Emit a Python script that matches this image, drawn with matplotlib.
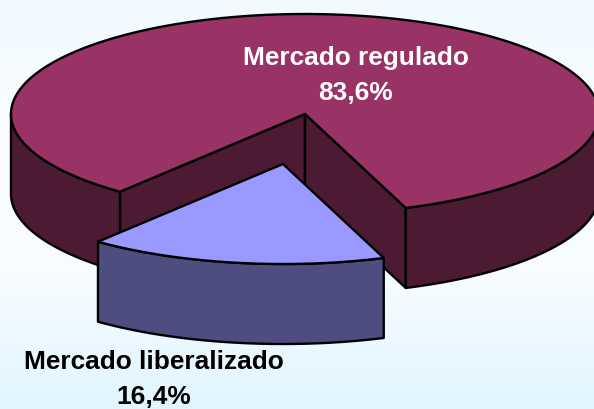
import numpy as np
import matplotlib
matplotlib.use("Agg")
import matplotlib.pyplot as plt
from matplotlib.colors import LinearSegmentedColormap

labels = ["Mercado regulado", "Mercado liberalizado"]
value_labels = ["83,6%", "16,4%"]
shares = [83.6, 16.4]

# pie geometry in pixels
cx, cy = 305, 114
rx, ry = 294, 100
depth = 80
start = 231.0
explode = (-22, 50)
lw = 1.7

top_main, side_main = "#993366", "#4d1a33"
top_lib, side_lib = "#9999ff", "#4d4d80"

def ell(a, off=(0, 0)):
    a = np.radians(a)
    return cx + off[0] + rx * np.cos(a), cy + off[1] - ry * np.sin(a)

def wall(ax, a0, a1, color, off=(0, 0)):
    a = np.linspace(a0, a1, 120)
    x, y = ell(a, off)
    ax.fill(np.r_[x, x[::-1]], np.r_[y, y[::-1] + depth], fc=color, ec="black", lw=lw, joinstyle="round")

def cut(ax, a, color):
    x, y = ell(a)
    ax.fill([cx, x, x, cx], [cy, y, y + depth, cy + depth], fc=color, ec="black", lw=lw, joinstyle="round")

def top(ax, a0, a1, color, off=(0, 0)):
    a = np.linspace(a0, a1, 400)
    x, y = ell(a, off)
    ax.fill(np.r_[cx + off[0], x], np.r_[cy + off[1], y], fc=color, ec="black", lw=lw, joinstyle="miter")

fig = plt.figure(figsize=(5.94, 4.09), dpi=100)
ax = fig.add_axes([0, 0, 1, 1])
ax.set_xlim(0, 594)
ax.set_ylim(409, 0)
ax.axis("off")

# background gradient
cmap = LinearSegmentedColormap.from_list("bg", ["#f0faff", "#fbfdff", "#f8fcff", "#e0f5ff"])
ax.imshow(np.linspace(0, 1, 256).reshape(-1, 1), cmap=cmap, extent=[0, 594, 409, 0], aspect="auto", zorder=0)

lib_end = start + shares[1] / 100 * 360

# main slice
cut(ax, start, side_main)
cut(ax, lib_end, side_main)
wall(ax, 180, start, side_main)
wall(ax, lib_end, 360, side_main)
top(ax, lib_end, start + 360, top_main)

# exploded slice
wall(ax, start, lib_end, side_lib, explode)
top(ax, start, lib_end, top_lib, explode)

plt.rcParams["font.family"] = ["Liberation Sans", "DejaVu Sans"]
fs = 18.9
ax.text(355.5, 58, labels[0], color="white", fontsize=fs, fontweight="bold", ha="center", va="center")
ax.text(355.5, 93, value_labels[0], color="white", fontsize=fs, fontweight="bold", ha="center", va="center")
ax.text(153.5, 362, labels[1], color="black", fontsize=fs, fontweight="bold", ha="center", va="center")
ax.text(154, 397, value_labels[1], color="black", fontsize=fs, fontweight="bold", ha="center", va="center")

fig.savefig("out.png", dpi=100)
